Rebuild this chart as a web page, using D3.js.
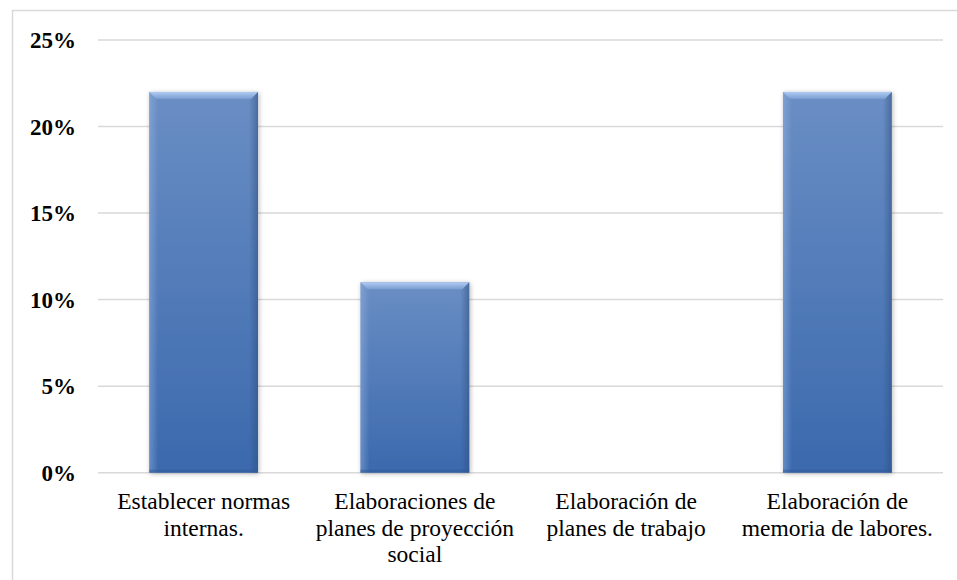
<!DOCTYPE html>
<html>
<head>
<meta charset="utf-8">
<script src="https://cdn.jsdelivr.net/npm/d3@7"></script>
<style>
  html, body { margin: 0; padding: 0; background: #ffffff; }
  svg { display: block; }
</style>
</head>
<body>
<svg id="chart" width="957" height="580"></svg>
<script>
// Chart data
const categories = [
  "Establecer normas internas.",
  "Elaboraciones de planes de proyección social",
  "Elaboración de planes de trabajo",
  "Elaboración de memoria de labores."
];
// Wrapped label lines for each category
const categoryLines = [
  ["Establecer normas", "internas."],
  ["Elaboraciones de", "planes de proyección", "social"],
  ["Elaboración de", "planes de trabajo"],
  ["Elaboración de", "memoria de labores."]
];
const values = [0.22, 0.11, 0, 0.22];
const yTicks = [0, 0.05, 0.10, 0.15, 0.20, 0.25];

(function () {
  const W = 957, H = 580;
  const plot = { left: 98, right: 943, top: 40, bottom: 472.7 };
  const serifStack = '"Liberation Serif", "Times New Roman", serif';

  const svg = d3.select("#chart");

  // Frame of the chart area (only the left and top edges fall inside the view)
  svg.append("path")
    .attr("d", `M12.5,${H} V10.5 H${W}`)
    .attr("fill", "none")
    .attr("stroke", "#d9d9d9")
    .attr("stroke-width", 1.5);

  const x = d3.scaleBand()
    .domain(categories)
    .range([plot.left, plot.right])
    .paddingInner(0.485)
    .paddingOuter(0.2425);

  const y = d3.scaleLinear()
    .domain([0, 0.25])
    .range([plot.bottom, plot.top]);

  // Defs: bar gradient, edge shading and soft shadow
  const defs = svg.append("defs");

  const bodyGrad = defs.append("linearGradient")
    .attr("id", "barBody").attr("x1", 0).attr("y1", 0).attr("x2", 0).attr("y2", 1);
  bodyGrad.append("stop").attr("offset", "0%").attr("stop-color", "#6a8ec4");
  bodyGrad.append("stop").attr("offset", "100%").attr("stop-color", "#3b69ad");

  const rightGrad = defs.append("linearGradient")
    .attr("id", "barSide").attr("x1", 0).attr("y1", 0).attr("x2", 1).attr("y2", 0);
  rightGrad.append("stop").attr("offset", "0%").attr("stop-color", "#2f4f80").attr("stop-opacity", 0);
  rightGrad.append("stop").attr("offset", "100%").attr("stop-color", "#2f4f80").attr("stop-opacity", 0.55);

  const leftGrad = defs.append("linearGradient")
    .attr("id", "barLeft").attr("x1", 0).attr("y1", 0).attr("x2", 1).attr("y2", 0);
  leftGrad.append("stop").attr("offset", "0%").attr("stop-color", "#9ab8e4").attr("stop-opacity", 0.45);
  leftGrad.append("stop").attr("offset", "100%").attr("stop-color", "#9ab8e4").attr("stop-opacity", 0);

  const topGrad = defs.append("linearGradient")
    .attr("id", "barTop").attr("x1", 0).attr("y1", 0).attr("x2", 0).attr("y2", 1);
  topGrad.append("stop").attr("offset", "0%").attr("stop-color", "#b0cbf2");
  topGrad.append("stop").attr("offset", "100%").attr("stop-color", "#7a9dd2");

  const shadow = defs.append("filter")
    .attr("id", "barShadow")
    .attr("x", "-20%").attr("y", "-20%").attr("width", "140%").attr("height", "140%");
  shadow.append("feGaussianBlur").attr("in", "SourceAlpha").attr("stdDeviation", 2.5).attr("result", "blur");
  shadow.append("feOffset").attr("in", "blur").attr("dx", 1).attr("dy", 1).attr("result", "off");
  shadow.append("feComponentTransfer").attr("in", "off").attr("result", "shade")
    .append("feFuncA").attr("type", "linear").attr("slope", 0.28);
  const merge = shadow.append("feMerge");
  merge.append("feMergeNode").attr("in", "shade");
  merge.append("feMergeNode").attr("in", "SourceGraphic");

  // Horizontal gridlines
  svg.append("g")
    .selectAll("line")
    .data(yTicks)
    .join("line")
    .attr("x1", plot.left)
    .attr("x2", plot.right)
    .attr("y1", d => y(d))
    .attr("y2", d => y(d))
    .attr("stroke", "#d9d9d9")
    .attr("stroke-width", 1.5);

  // Y axis tick labels
  const yAxis = d3.axisLeft(y)
    .tickValues(yTicks)
    .tickFormat(d3.format(".0%"))
    .tickSize(0)
    .tickPadding(0);

  const yg = svg.append("g")
    .attr("transform", "translate(76,0)")
    .call(yAxis);
  yg.select(".domain").remove();
  yg.attr("font-family", null).attr("font-size", null);
  yg.selectAll("text")
    .style("font-family", serifStack)
    .style("font-weight", "bold")
    .style("font-size", "23px")
    .attr("fill", "#000")
    .attr("dy", "0.33em");

  // Bars with beveled shading
  const bevel = 7;
  const bars = svg.append("g")
    .selectAll("g")
    .data(categories.map((c, i) => ({ c, v: values[i] })).filter(d => d.v > 0))
    .join("g")
    .attr("filter", "url(#barShadow)");

  bars.each(function (d) {
    const g = d3.select(this);
    const x0 = x(d.c), w = x.bandwidth();
    const y0 = y(d.v), h = y(0) - y(d.v);
    g.append("rect").attr("x", x0).attr("y", y0).attr("width", w).attr("height", h)
      .attr("fill", "url(#barBody)");
    // lighter left edge
    g.append("rect").attr("x", x0).attr("y", y0).attr("width", bevel + 2).attr("height", h)
      .attr("fill", "url(#barLeft)");
    // darker right edge
    g.append("rect").attr("x", x0 + w - bevel - 2).attr("y", y0).attr("width", bevel + 2).attr("height", h)
      .attr("fill", "url(#barSide)");
    // darker bottom edge
    g.append("rect").attr("x", x0).attr("y", y0 + h - 3).attr("width", w).attr("height", 3)
      .attr("fill", "#2f5a96").attr("opacity", 0.5);
    // top bevel
    g.append("path")
      .attr("d", `M${x0},${y0} H${x0 + w} L${x0 + w - bevel},${y0 + bevel} H${x0 + bevel} Z`)
      .attr("fill", "url(#barTop)");
  });

  // Category labels
  const labels = svg.append("g")
    .selectAll("text")
    .data(categories)
    .join("text")
    .attr("text-anchor", "middle")
    .style("font-family", serifStack)
    .style("font-size", "23.5px")
    .attr("fill", "#000")
    .attr("transform", d => `translate(${x(d) + x.bandwidth() / 2},509)`);

  labels.each(function (d, i) {
    d3.select(this).selectAll("tspan")
      .data(categoryLines[i])
      .join("tspan")
      .attr("x", 0)
      .attr("y", (l, j) => j * 26.5)
      .text(l => l);
  });
})();
</script>
</body>
</html>
